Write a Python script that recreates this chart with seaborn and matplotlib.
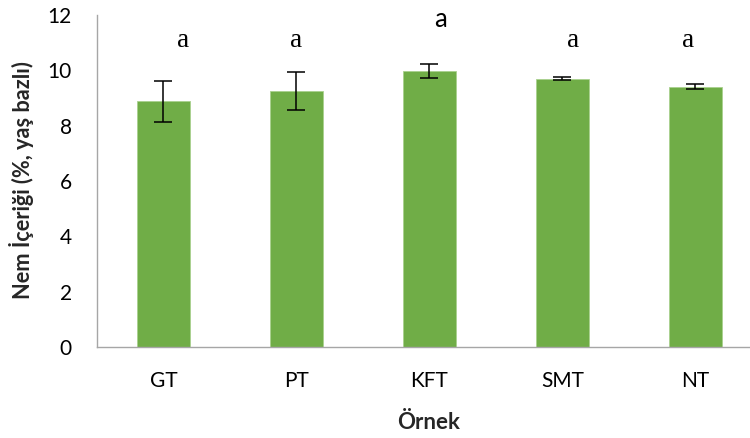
import matplotlib
matplotlib.use("Agg")
import matplotlib.pyplot as plt
import seaborn as sns
import pandas as pd
import numpy as np

samples = ["GT", "PT", "KFT", "SMT", "NT"]
moisture = [8.88, 9.25, 9.97, 9.70, 9.40]
errors = [0.74, 0.70, 0.25, 0.05, 0.09]
letters = ["a", "a", "a", "a", "a"]

df = pd.DataFrame({"Örnek": samples, "Nem": moisture})

sns.set_theme(style="white")
plt.rcParams['font.family'] = ['Lato', 'DejaVu Sans']

fig = plt.figure(figsize=(7.5, 4.38), dpi=100)
ax = fig.add_axes([0.1293, 0.2078, 0.8707, 0.758])

sns.barplot(data=df, x="Örnek", y="Nem", color="#70AD47", width=0.4,
            saturation=1, edgecolor="#A9D18E", linewidth=0.6, errorbar=None, ax=ax)

centers = [p.get_x() + p.get_width() / 2 for p in ax.patches]
ax.errorbar(centers, moisture, yerr=errors, fmt="none", ecolor="black",
            elinewidth=1.1, capsize=6.5, capthick=1.1, zorder=5)

# letter annotations (manually placed as in original)
label_dx = [0.148, 0.0, 0.08, 0.08, -0.055]
label_y = [10.85, 10.85, 11.58, 10.85, 10.85]
label_font = [['Liberation Serif'], ['Liberation Serif'], ['Lato'], ['Liberation Serif'], ['Liberation Serif']]
label_size = [19.5, 19.5, 18.5, 19.5, 19.5]
for c, l, dx, yy, fam, fs in zip(centers, letters, label_dx, label_y, label_font, label_size):
    ax.text(c + dx, yy, l, ha="center", va="baseline", fontsize=fs, family=fam, color="black")

ax.set_ylim(0, 12)
ax.set_xlim(-0.5, 4.41)
ax.set_yticks([0, 2, 4, 6, 8, 10, 12])
ax.tick_params(axis="both", length=0, labelsize=15, colors="black")
ax.tick_params(axis="y", pad=18)
ax.tick_params(axis="x", pad=17)

for s in ["top", "right"]:
    ax.spines[s].set_visible(False)
for s in ["left", "bottom"]:
    ax.spines[s].set_color("#A6A6A6")
    ax.spines[s].set_linewidth(1.0)

ax.set_xlabel("Örnek", fontsize=16, fontweight="bold")
ax.set_ylabel("Nem İçeriği (%, yaş bazlı)", fontsize=15.7, fontweight="bold")
ax.xaxis.label.set_va("center")
ax.yaxis.label.set_va("center")
ax.xaxis.set_label_coords(0.508, -0.226)
ax.yaxis.set_label_coords(-0.115, 0.503)

fig.savefig("out.png", dpi=100)
